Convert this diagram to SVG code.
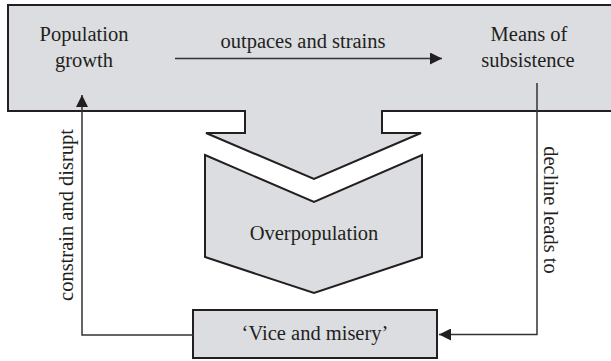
<svg xmlns="http://www.w3.org/2000/svg" width="611" height="361" viewBox="0 0 611 361">
<style>
.shape{fill:#dcdde0;stroke:#231f20;stroke-width:2;stroke-linejoin:miter}
.t{font-family:"Liberation Serif","Times New Roman",serif;font-size:20.5px;fill:#231f20}
.c{fill:none;stroke:#333;stroke-width:1.5}
</style>
<defs>
<marker id="ah" viewBox="0 0 12 12" refX="12" refY="6" markerWidth="12" markerHeight="12" markerUnits="userSpaceOnUse" orient="auto">
<path d="M0,0 L12,6 L0,12 Z" fill="#231f20"/>
</marker>
</defs>
<g id="population-growth">
<path class="shape" d="M8,5 H614 V111 H382 V133 H421 L314,179 L206,133 H245 V111 H8 Z"/>
<text class="t" x="84" y="41" text-anchor="middle">Population</text>
<text class="t" x="84" y="67" text-anchor="middle">growth</text>
</g>
<g id="means-of-subsistence">
<text class="t" x="529" y="41" text-anchor="middle">Means of</text>
<text class="t" x="528" y="67" text-anchor="middle">subsistence</text>
</g>
<g id="overpopulation">
<path class="shape" d="M205,155 L314,202 L422,155 V257 L314,293 L205,257 Z"/>
<text class="t" x="314" y="240" text-anchor="middle">Overpopulation</text>
</g>
<g id="vice-and-misery">
<rect class="shape" x="193" y="310" width="244" height="48"/>
<text class="t" x="315" y="340" text-anchor="middle">‘Vice and misery’</text>
</g>
<g id="connectors">
<line class="c" x1="175" y1="58.5" x2="442" y2="58.5" marker-end="url(#ah)"/>
<text class="t" x="303" y="48" text-anchor="middle">outpaces and strains</text>
<polyline class="c" points="537,83 537,334.5 439,334.5" marker-end="url(#ah)"/>
<text class="t" transform="translate(544,210) rotate(90)" text-anchor="middle">decline leads to</text>
<polyline class="c" points="193,335 82,335 82,95" marker-end="url(#ah)"/>
<text class="t" transform="translate(73,215) rotate(-90)" text-anchor="middle">constrain and disrupt</text>
</g>
</svg>
